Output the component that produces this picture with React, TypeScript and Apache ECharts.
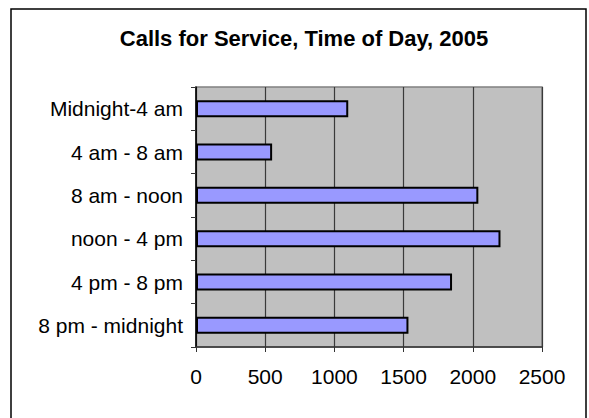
import React, { useEffect, useRef } from "react";
import * as echarts from "echarts";

const title = "Calls for Service, Time of Day, 2005";
const categories = [
  "Midnight-4 am",
  "4 am - 8 am",
  "8 am - noon",
  "noon - 4 pm",
  "4 pm - 8 pm",
  "8 pm - midnight",
];
const calls = [1100, 550, 2040, 2200, 1850, 1535];
const xMin = 0;
const xMax = 2500;
const xInterval = 500;

const FONT = "'Liberation Sans', Arial, sans-serif";

export default function App() {
  const ref = useRef<HTMLDivElement>(null);
  useEffect(() => {
    if (!ref.current) return;
    const chart = echarts.init(ref.current, undefined, { renderer: "svg" });
    chart.setOption({
      animation: false,
      backgroundColor: "#ffffff",
      title: {
        text: title,
        left: 299,
        textAlign: "center",
        top: 22,
        textStyle: { fontFamily: FONT, fontSize: 22, fontWeight: "bold", color: "#000" },
      },
      graphic: [
        {
          type: "rect",
          shape: { x: 11, y: 9, width: 575, height: 430 },
          style: { fill: "none", stroke: "#000", lineWidth: 1.5 },
          z: 100,
        },
      ],
      grid: {
        left: 196,
        right: 47,
        top: 87,
        bottom: 71,
        show: true,
        backgroundColor: "#C0C0C0",
        borderColor: "#808080",
        borderWidth: 1.5,
      },
      xAxis: {
        type: "value",
        min: xMin,
        max: xMax,
        interval: xInterval,
        axisLine: { show: true, lineStyle: { color: "#333", width: 1.5 } },
        axisTick: { show: true, length: 5, lineStyle: { color: "#333", width: 1 } },
        splitLine: { show: true, lineStyle: { color: "#3a3a3a", width: 1.2 } },
        axisLabel: {
          fontFamily: FONT,
          fontSize: 21,
          color: "#000",
          margin: 19,
          formatter: (v: number) => String(v),
        },
      },
      yAxis: {
        type: "category",
        data: categories,
        inverse: true,
        axisLine: { show: true, lineStyle: { color: "#000", width: 1.5 } },
        axisTick: { show: true, length: 5, lineStyle: { color: "#333", width: 1 } },
        axisLabel: { fontFamily: FONT, fontSize: 21, color: "#000", margin: 13 },
        splitLine: { show: false },
      },
      series: [
        {
          type: "bar",
          data: calls,
          barWidth: 17,
          itemStyle: { color: "#9999FF", borderColor: "#000", borderWidth: 2 },
        },
      ],
    });
    return () => chart.dispose();
  }, []);
  return (
    <div
      ref={ref}
      style={{ position: "fixed", left: 0, top: 0, width: 589, height: 418 }}
    />
  );
}
